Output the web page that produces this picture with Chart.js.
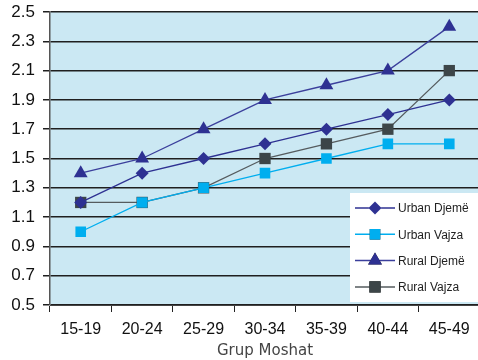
<!DOCTYPE html>
<html>
<head>
<meta charset="utf-8">
<script src="https://cdn.jsdelivr.net/npm/chart.js@4"></script>
<style>
  html, body { margin: 0; padding: 0; background: #fff; overflow: hidden; }
  #wrap { position: relative; width: 488px; height: 360px; }
</style>
</head>
<body>
<div id="wrap"><canvas id="c"></canvas></div>
<script>
const ageGroups = ['15-19', '20-24', '25-29', '30-34', '35-39', '40-44', '45-49'];
const urbanDjeme = [1.2, 1.4, 1.5, 1.6, 1.7, 1.8, 1.9];
const urbanVajza = [1.0, 1.2, 1.3, 1.4, 1.5, 1.6, 1.6];
const ruralDjeme = [1.4, 1.5, 1.7, 1.9, 2.0, 2.1, 2.4];
const ruralVajza = [1.2, 1.2, 1.3, 1.5, 1.6, 1.7, 2.1];
const yTicks = [0.5, 0.7, 0.9, 1.1, 1.3, 1.5, 1.7, 1.9, 2.1, 2.3, 2.5];

// plot background + legend box drawn on canvas
const plotBg = {
    id: 'plotBg',
    beforeDraw: (chart) => {
        const { ctx, chartArea: a } = chart;
        ctx.save();
        ctx.fillStyle = '#cbe8f3';
        ctx.fillRect(a.left, a.top, a.right - a.left, a.bottom - a.top);
        ctx.restore();
    }
};

const boxLegend = {
    id: 'boxLegend',
    afterDraw: (chart) => {
        const ctx = chart.ctx;
        ctx.save();
        ctx.fillStyle = '#fff';
        ctx.fillRect(350, 193, 140, 109);
        chart.data.datasets.forEach((ds, i) => {
            const y = 208 + i * 26.3;
            ctx.strokeStyle = ds.borderColor;
            ctx.lineWidth = 1.5;
            ctx.beginPath(); ctx.moveTo(355, y); ctx.lineTo(395, y); ctx.stroke();
            Chart.helpers.drawPoint(ctx, {
                pointStyle: ds.pointStyle, radius: ds.pointRadius, rotation: 0, borderWidth: 0
            }, 375, y);
            ctx.fillStyle = ds.pointBackgroundColor;
            ctx.fill();
            ctx.fillStyle = '#222';
            ctx.font = '12px "Liberation Sans", Arial, sans-serif';
            ctx.textBaseline = 'middle';
            ctx.fillText(ds.label, 398, y + 1);
        });
        ctx.restore();
    }
};

const mk = (label, data, line, fill, style, r) => ({
    label, data,
    borderColor: line, borderWidth: 1.3,
    pointStyle: style, pointRadius: r, pointHoverRadius: r,
    pointBackgroundColor: fill, pointBorderColor: fill, pointBorderWidth: 0,
    tension: 0
});

new Chart(document.getElementById('c'), {
    type: 'line',
    data: {
        labels: ageGroups,
        datasets: [
            mk('Urban Djemë', urbanDjeme, '#2e3192', '#2e3192', 'rectRot', 6.5),
            mk('Urban Vajza', urbanVajza, '#00aeef', '#00aeef', 'rect', 7.5),
            mk('Rural Djemë', ruralDjeme, '#3b3f9c', '#2e3192', 'triangle', 8),
            mk('Rural Vajza', ruralVajza, '#555b5e', '#3c4548', 'rect', 8)
        ]
    },
    options: {
        responsive: true,
        maintainAspectRatio: false,
        animation: false,
        layout: { padding: { top: 12, right: 0, left: 0, bottom: 0 } },
        plugins: { legend: { display: false }, tooltip: { enabled: false } },
        scales: {
            x: {
                offset: true,
                afterFit: (s) => { s.height = 55; },
                grid: { offset: true, drawOnChartArea: false, drawTicks: true, tickLength: 7, color: '#222', lineWidth: 1 },
                border: { color: '#444', width: 1 },
                ticks: { color: '#111', font: { family: '"Liberation Sans", Arial, sans-serif', size: 16 }, padding: 8, maxRotation: 0 },
                title: { display: true, text: 'Grup Moshat', color: '#444', font: { family: '"DejaVu Sans", sans-serif', size: 15 }, padding: { top: 0, bottom: 0 } }
            },
            y: {
                min: 0.5, max: 2.5,
                afterBuildTicks: (s) => { s.ticks = yTicks.map(v => ({ value: v })); },
                afterFit: (s) => { s.width = 50; s.paddingTop = 0; s.paddingBottom = 0; },
                grid: { color: '#1f1f1f', lineWidth: 1.5, tickLength: 7 },
                border: { color: '#555', width: 1.5 },
                ticks: {
                    color: '#111', padding: 8,
                    font: { family: '"Liberation Sans", Arial, sans-serif', size: 17 },
                    callback: (v) => v.toFixed(1)
                }
            }
        }
    },
    plugins: [plotBg, boxLegend]
});
</script>
</body>
</html>
